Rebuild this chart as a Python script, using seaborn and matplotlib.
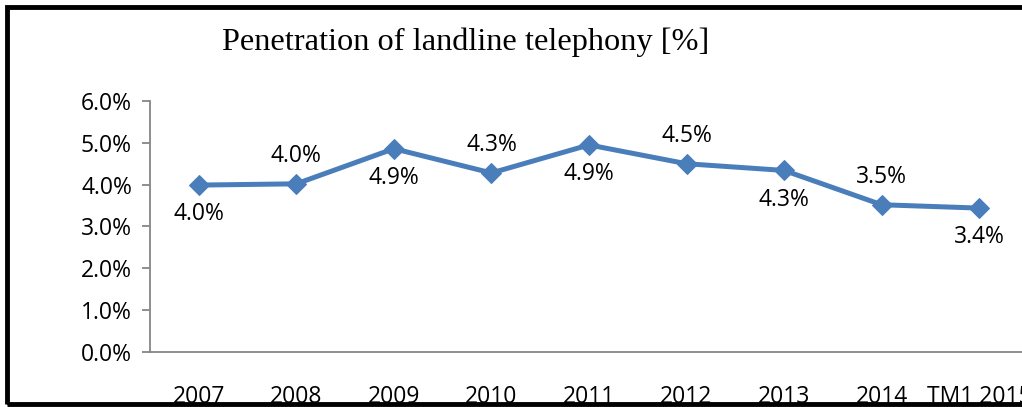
import matplotlib
matplotlib.use("Agg")
import matplotlib.pyplot as plt
import seaborn as sns
import pandas as pd
from matplotlib.patches import Rectangle
from matplotlib.ticker import PercentFormatter

categories = ["2007", "2008", "2009", "2010", "2011", "2012", "2013", "2014", "TM1 2015"]
penetration = [3.99, 4.02, 4.86, 4.28, 4.95, 4.50, 4.34, 3.52, 3.44]
label_text = ["4.0%", "4.0%", "4.9%", "4.3%", "4.9%", "4.5%", "4.3%", "3.5%", "3.4%"]
label_side = ["below", "above", "below", "above", "below", "above", "below", "above", "below"]
title = "Penetration of landline telephony [%]"

sns.set_theme(style="white")
plt.rcParams["font.family"] = ["Open Sans", "DejaVu Sans"]

df = pd.DataFrame({"year": categories, "value": penetration})

fig = plt.figure(figsize=(10.22, 4.07), dpi=100)
ax = fig.add_axes([150 / 1022, 55 / 407, 878 / 1022, 251 / 407])

color = "#4A7EBB"
sns.lineplot(data=df, x="year", y="value", ax=ax, color=color, linewidth=3.6,
             marker="D", markersize=10, markeredgecolor=color, sort=False)

for i, (v, t, s) in enumerate(zip(penetration, label_text, label_side)):
    dy = 20 if s == "above" else -21
    ax.annotate(t, (i, v), xytext=(0, dy), textcoords="offset points",
                ha="center", va="center", fontsize=16.5, color="black")

ax.set_ylim(0, 6)
ax.set_yticks([0, 1, 2, 3, 4, 5, 6])
ax.yaxis.set_major_formatter(PercentFormatter(100, decimals=1))
ax.set_xlim(-0.5, 8.5)
ax.set_xlabel("")
ax.set_ylabel("")

for sp in ["top", "right"]:
    ax.spines[sp].set_visible(False)
for sp in ["left", "bottom"]:
    ax.spines[sp].set_color("#868686")
    ax.spines[sp].set_linewidth(1.3)

ax.tick_params(axis="y", which="major", left=True, length=6, width=1.3,
               color="#868686", labelsize=16.5, pad=7, labelcolor="black")
ax.tick_params(axis="x", length=0, labelsize=16.5, pad=24, labelcolor="black")

fig.text(222 / 1022, 1 - 42 / 407, title, family=["Liberation Serif", "DejaVu Serif"],
         fontsize=23.3, ha="left", va="center", color="black")

fig.patches.append(Rectangle((7 / 1022, 3 / 407), 1.2, 1 - 10 / 407,
                             transform=fig.transFigure, fill=False,
                             edgecolor="black", linewidth=3.5, zorder=10))

fig.savefig("out.png", dpi=100)
